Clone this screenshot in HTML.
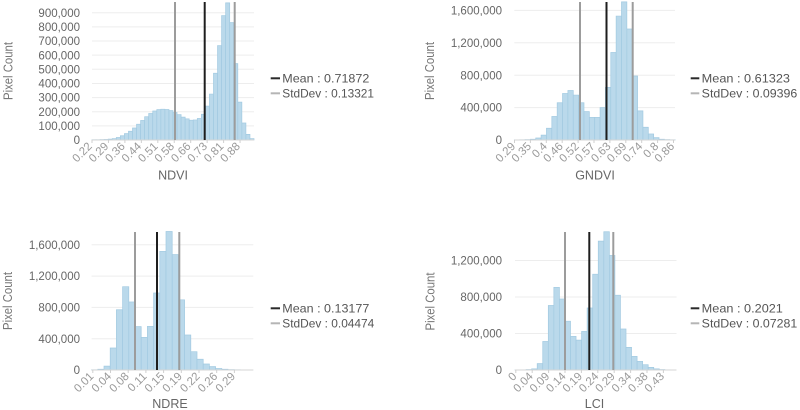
<!DOCTYPE html>
<html><head><meta charset="utf-8">
<style>
html,body{margin:0;padding:0;background:#fff;}
svg{display:block;}
text{font-family:"Liberation Sans",sans-serif;}
.yl{font-size:11.5px;fill:#666;text-anchor:end;}
.xl{font-size:11.5px;fill:#9a9a9a;text-anchor:end;}
.tt{font-size:12.5px;fill:#666;text-anchor:middle;}
.pc{font-size:12.5px;fill:#777;text-anchor:middle;}
.lg{font-size:12px;fill:#555;}
.grid line{stroke:#ededed;stroke-width:1;}
.bars rect{fill:#bad9eb;stroke:#a2cae1;stroke-width:0.7;vector-effect:non-scaling-stroke;}
.ax{stroke:#d6d6d6;stroke-width:1;}
.tk{stroke:#cfcfcf;stroke-width:1;}
.mean{stroke:#1e1e1e;stroke-width:2;}
.sd{stroke:#9c9c9c;stroke-width:2;}
</style></head><body>
<svg width="800" height="410" viewBox="0 0 800 410" xmlns="http://www.w3.org/2000/svg">

<!-- ================= NDVI ================= -->
<g class="grid">
<line x1="92" x2="254" y1="125.86" y2="125.86"/>
<line x1="92" x2="254" y1="111.72" y2="111.72"/>
<line x1="92" x2="254" y1="97.58" y2="97.58"/>
<line x1="92" x2="254" y1="83.44" y2="83.44"/>
<line x1="92" x2="254" y1="69.30" y2="69.30"/>
<line x1="92" x2="254" y1="55.16" y2="55.16"/>
<line x1="92" x2="254" y1="41.02" y2="41.02"/>
<line x1="92" x2="254" y1="26.88" y2="26.88"/>
<line x1="92" x2="254" y1="12.74" y2="12.74"/>
</g>
<text class="yl" x="80" y="144.1">0</text>
<text class="yl" x="80" y="130">100,000</text>
<text class="yl" x="80" y="115.8">200,000</text>
<text class="yl" x="80" y="101.7">300,000</text>
<text class="yl" x="80" y="87.5">400,000</text>
<text class="yl" x="80" y="73.4">500,000</text>
<text class="yl" x="80" y="59.3">600,000</text>
<text class="yl" x="80" y="45.1">700,000</text>
<text class="yl" x="80" y="31">800,000</text>
<text class="yl" x="80" y="16.8">900,000</text>
<g class="bars" transform="translate(92,140) scale(4.05,-0.1414)">
<rect x="0" y="0" width="1" height="2"/>
<rect x="1" y="0" width="1" height="2"/>
<rect x="2" y="0" width="1" height="3"/>
<rect x="3" y="0" width="1" height="4"/>
<rect x="4" y="0" width="1" height="6"/>
<rect x="5" y="0" width="1" height="10"/>
<rect x="6" y="0" width="1" height="18"/>
<rect x="7" y="0" width="1" height="30"/>
<rect x="8" y="0" width="1" height="45"/>
<rect x="9" y="0" width="1" height="62"/>
<rect x="10" y="0" width="1" height="85"/>
<rect x="11" y="0" width="1" height="112"/>
<rect x="12" y="0" width="1" height="138"/>
<rect x="13" y="0" width="1" height="165"/>
<rect x="14" y="0" width="1" height="188"/>
<rect x="15" y="0" width="1" height="205"/>
<rect x="16" y="0" width="1" height="215"/>
<rect x="17" y="0" width="1" height="218"/>
<rect x="18" y="0" width="1" height="216"/>
<rect x="19" y="0" width="1" height="208"/>
<rect x="20" y="0" width="1" height="195"/>
<rect x="21" y="0" width="1" height="180"/>
<rect x="22" y="0" width="1" height="162"/>
<rect x="23" y="0" width="1" height="150"/>
<rect x="24" y="0" width="1" height="140"/>
<rect x="25" y="0" width="1" height="142"/>
<rect x="26" y="0" width="1" height="152"/>
<rect x="27" y="0" width="1" height="182"/>
<rect x="28" y="0" width="1" height="240"/>
<rect x="29" y="0" width="1" height="325"/>
<rect x="30" y="0" width="1" height="472"/>
<rect x="31" y="0" width="1" height="668"/>
<rect x="32" y="0" width="1" height="880"/>
<rect x="33" y="0" width="1" height="970"/>
<rect x="34" y="0" width="1" height="830"/>
<rect x="35" y="0" width="1" height="540"/>
<rect x="36" y="0" width="1" height="268"/>
<rect x="37" y="0" width="1" height="120"/>
<rect x="38" y="0" width="1" height="40"/>
<rect x="39" y="0" width="1" height="10"/>
</g>
<line class="ax" x1="92" x2="254" y1="140" y2="140"/>
<g class="tk">
<line x1="92" x2="92" y1="140" y2="143"/>
<line x1="108.45" x2="108.45" y1="140" y2="143"/>
<line x1="124.9" x2="124.9" y1="140" y2="143"/>
<line x1="141.35" x2="141.35" y1="140" y2="143"/>
<line x1="157.8" x2="157.8" y1="140" y2="143"/>
<line x1="174.25" x2="174.25" y1="140" y2="143"/>
<line x1="190.7" x2="190.7" y1="140" y2="143"/>
<line x1="207.15" x2="207.15" y1="140" y2="143"/>
<line x1="223.6" x2="223.6" y1="140" y2="143"/>
<line x1="240.05" x2="240.05" y1="140" y2="143"/>
</g>
<line class="sd" x1="175" x2="175" y1="2" y2="140"/>
<line class="sd" x1="234.7" x2="234.7" y1="2" y2="140"/>
<line class="mean" x1="204.7" x2="204.7" y1="2" y2="140"/>
<text class="xl" transform="translate(92.7,147) rotate(-45)">0.22</text>
<text class="xl" transform="translate(109.15,147) rotate(-45)">0.29</text>
<text class="xl" transform="translate(125.6,147) rotate(-45)">0.36</text>
<text class="xl" transform="translate(142.05,147) rotate(-45)">0.44</text>
<text class="xl" transform="translate(158.5,147) rotate(-45)">0.51</text>
<text class="xl" transform="translate(174.95,147) rotate(-45)">0.58</text>
<text class="xl" transform="translate(191.4,147) rotate(-45)">0.66</text>
<text class="xl" transform="translate(207.85,147) rotate(-45)">0.73</text>
<text class="xl" transform="translate(224.3,147) rotate(-45)">0.81</text>
<text class="xl" transform="translate(240.75,147) rotate(-45)">0.88</text>
<text class="pc" transform="translate(12.5,71) rotate(-90)" textLength="58" lengthAdjust="spacingAndGlyphs">Pixel Count</text>
<text class="tt" x="173" y="179.3">NDVI</text>
<line x1="270.7" x2="280" y1="78.3" y2="78.3" stroke="#2a2a2a" stroke-width="2"/>
<text class="lg" x="282.3" y="82.6" textLength="87" lengthAdjust="spacingAndGlyphs">Mean : 0.71872</text>
<line x1="270.7" x2="280" y1="93.3" y2="93.3" stroke="#b5b5b5" stroke-width="2"/>
<text class="lg" x="282.3" y="97.6" textLength="91.7" lengthAdjust="spacingAndGlyphs">StdDev : 0.13321</text>

<!-- ================= GNDVI ================= -->
<g class="grid">
<line x1="514.3" x2="675" y1="107.6" y2="107.6"/>
<line x1="514.3" x2="675" y1="75.2" y2="75.2"/>
<line x1="514.3" x2="675" y1="42.8" y2="42.8"/>
<line x1="514.3" x2="675" y1="10.4" y2="10.4"/>
</g>
<text class="yl" x="502" y="144.1">0</text>
<text class="yl" x="502" y="111.7">400,000</text>
<text class="yl" x="502" y="79.3">800,000</text>
<text class="yl" x="502" y="46.9">1,200,000</text>
<text class="yl" x="502" y="14.5">1,600,000</text>
<g class="bars" transform="translate(514.3,140) scale(5.36,-0.081)">
<rect x="0" y="0" width="1" height="2"/>
<rect x="1" y="0" width="1" height="3"/>
<rect x="2" y="0" width="1" height="5"/>
<rect x="3" y="0" width="1" height="9"/>
<rect x="4" y="0" width="1" height="25"/>
<rect x="5" y="0" width="1" height="60"/>
<rect x="6" y="0" width="1" height="145"/>
<rect x="7" y="0" width="1" height="290"/>
<rect x="8" y="0" width="1" height="460"/>
<rect x="9" y="0" width="1" height="575"/>
<rect x="10" y="0" width="1" height="612"/>
<rect x="11" y="0" width="1" height="555"/>
<rect x="12" y="0" width="1" height="460"/>
<rect x="13" y="0" width="1" height="350"/>
<rect x="14" y="0" width="1" height="280"/>
<rect x="15" y="0" width="1" height="280"/>
<rect x="16" y="0" width="1" height="400"/>
<rect x="17" y="0" width="1" height="650"/>
<rect x="18" y="0" width="1" height="1080"/>
<rect x="19" y="0" width="1" height="1530"/>
<rect x="20" y="0" width="1" height="1705"/>
<rect x="21" y="0" width="1" height="1370"/>
<rect x="22" y="0" width="1" height="790"/>
<rect x="23" y="0" width="1" height="360"/>
<rect x="24" y="0" width="1" height="157"/>
<rect x="25" y="0" width="1" height="75"/>
<rect x="26" y="0" width="1" height="30"/>
<rect x="27" y="0" width="1" height="10"/>
<rect x="28" y="0" width="1" height="5"/>
<rect x="29" y="0" width="1" height="3"/>
</g>
<line class="ax" x1="514.3" x2="675" y1="140" y2="140"/>
<g class="tk">
<line x1="514.5" x2="514.5" y1="140" y2="143"/>
<line x1="530.4" x2="530.4" y1="140" y2="143"/>
<line x1="546.3" x2="546.3" y1="140" y2="143"/>
<line x1="562.2" x2="562.2" y1="140" y2="143"/>
<line x1="578.1" x2="578.1" y1="140" y2="143"/>
<line x1="594" x2="594" y1="140" y2="143"/>
<line x1="609.9" x2="609.9" y1="140" y2="143"/>
<line x1="625.8" x2="625.8" y1="140" y2="143"/>
<line x1="641.7" x2="641.7" y1="140" y2="143"/>
<line x1="657.6" x2="657.6" y1="140" y2="143"/>
<line x1="673.5" x2="673.5" y1="140" y2="143"/>
</g>
<line class="sd" x1="580" x2="580" y1="2" y2="140"/>
<line class="sd" x1="632.7" x2="632.7" y1="2" y2="140"/>
<line class="mean" x1="606.5" x2="606.5" y1="2" y2="140"/>
<text class="xl" transform="translate(516,147) rotate(-45)">0.29</text>
<text class="xl" transform="translate(531.9,147) rotate(-45)">0.35</text>
<text class="xl" transform="translate(547.8,147) rotate(-45)">0.4</text>
<text class="xl" transform="translate(563.7,147) rotate(-45)">0.46</text>
<text class="xl" transform="translate(579.6,147) rotate(-45)">0.52</text>
<text class="xl" transform="translate(595.5,147) rotate(-45)">0.57</text>
<text class="xl" transform="translate(611.4,147) rotate(-45)">0.63</text>
<text class="xl" transform="translate(627.3,147) rotate(-45)">0.69</text>
<text class="xl" transform="translate(643.2,147) rotate(-45)">0.74</text>
<text class="xl" transform="translate(659.1,147) rotate(-45)">0.8</text>
<text class="xl" transform="translate(675,147) rotate(-45)">0.86</text>
<text class="pc" transform="translate(434,71) rotate(-90)" textLength="58" lengthAdjust="spacingAndGlyphs">Pixel Count</text>
<text class="tt" x="595" y="179.3">GNDVI</text>
<line x1="690.7" x2="699.3" y1="78.3" y2="78.3" stroke="#2a2a2a" stroke-width="2"/>
<text class="lg" x="701.7" y="82.6" textLength="88.3" lengthAdjust="spacingAndGlyphs">Mean : 0.61323</text>
<line x1="690.7" x2="699.3" y1="93.3" y2="93.3" stroke="#b5b5b5" stroke-width="2"/>
<text class="lg" x="701.7" y="97.6" textLength="95.6" lengthAdjust="spacingAndGlyphs">StdDev : 0.09396</text>

<!-- ================= NDRE ================= -->
<g class="grid">
<line x1="91.6" x2="253.3" y1="338.7" y2="338.7"/>
<line x1="91.6" x2="253.3" y1="307.4" y2="307.4"/>
<line x1="91.6" x2="253.3" y1="276.1" y2="276.1"/>
<line x1="91.6" x2="253.3" y1="244.8" y2="244.8"/>
</g>
<text class="yl" x="80" y="374.1">0</text>
<text class="yl" x="80" y="342.8">400,000</text>
<text class="yl" x="80" y="311.5">800,000</text>
<text class="yl" x="80" y="280.2">1,200,000</text>
<text class="yl" x="80" y="248.9">1,600,000</text>
<g class="bars" transform="translate(91.6,370) scale(6.2,-0.07825)">
<rect x="0" y="0" width="1" height="3"/>
<rect x="1" y="0" width="1" height="10"/>
<rect x="2" y="0" width="1" height="50"/>
<rect x="3" y="0" width="1" height="281"/>
<rect x="4" y="0" width="1" height="770"/>
<rect x="5" y="0" width="1" height="1065"/>
<rect x="6" y="0" width="1" height="870"/>
<rect x="7" y="0" width="1" height="554"/>
<rect x="8" y="0" width="1" height="418"/>
<rect x="9" y="0" width="1" height="558"/>
<rect x="10" y="0" width="1" height="984"/>
<rect x="11" y="0" width="1" height="1517"/>
<rect x="12" y="0" width="1" height="1770"/>
<rect x="13" y="0" width="1" height="1474"/>
<rect x="14" y="0" width="1" height="897"/>
<rect x="15" y="0" width="1" height="447"/>
<rect x="16" y="0" width="1" height="234"/>
<rect x="17" y="0" width="1" height="137"/>
<rect x="18" y="0" width="1" height="77"/>
<rect x="19" y="0" width="1" height="43"/>
<rect x="20" y="0" width="1" height="20"/>
<rect x="21" y="0" width="1" height="10"/>
<rect x="22" y="0" width="1" height="5"/>
<rect x="23" y="0" width="1" height="3"/>
<rect x="24" y="0" width="1" height="2"/>
<rect x="25" y="0" width="1" height="1"/>
</g>
<line class="ax" x1="91.6" x2="253.3" y1="370" y2="370"/>
<g class="tk">
<line x1="92.8" x2="92.8" y1="370" y2="373"/>
<line x1="110.5" x2="110.5" y1="370" y2="373"/>
<line x1="128.2" x2="128.2" y1="370" y2="373"/>
<line x1="145.9" x2="145.9" y1="370" y2="373"/>
<line x1="163.6" x2="163.6" y1="370" y2="373"/>
<line x1="181.3" x2="181.3" y1="370" y2="373"/>
<line x1="199" x2="199" y1="370" y2="373"/>
<line x1="216.7" x2="216.7" y1="370" y2="373"/>
<line x1="234.4" x2="234.4" y1="370" y2="373"/>
</g>
<line class="sd" x1="135" x2="135" y1="232" y2="370"/>
<line class="sd" x1="179.3" x2="179.3" y1="232" y2="370"/>
<line class="mean" x1="157" x2="157" y1="232" y2="370"/>
<text class="xl" transform="translate(94.3,377) rotate(-45)">0.01</text>
<text class="xl" transform="translate(112,377) rotate(-45)">0.04</text>
<text class="xl" transform="translate(129.7,377) rotate(-45)">0.08</text>
<text class="xl" transform="translate(147.4,377) rotate(-45)">0.11</text>
<text class="xl" transform="translate(165.1,377) rotate(-45)">0.15</text>
<text class="xl" transform="translate(182.8,377) rotate(-45)">0.19</text>
<text class="xl" transform="translate(200.5,377) rotate(-45)">0.22</text>
<text class="xl" transform="translate(218.2,377) rotate(-45)">0.26</text>
<text class="xl" transform="translate(235.9,377) rotate(-45)">0.29</text>
<text class="pc" transform="translate(12,301) rotate(-90)" textLength="58" lengthAdjust="spacingAndGlyphs">Pixel Count</text>
<text class="tt" x="170" y="408">NDRE</text>
<line x1="270.7" x2="280" y1="308.3" y2="308.3" stroke="#2a2a2a" stroke-width="2"/>
<text class="lg" x="282.3" y="312.6" textLength="87" lengthAdjust="spacingAndGlyphs">Mean : 0.13177</text>
<line x1="270.7" x2="280" y1="323.3" y2="323.3" stroke="#b5b5b5" stroke-width="2"/>
<text class="lg" x="282.3" y="327.6" textLength="92" lengthAdjust="spacingAndGlyphs">StdDev : 0.04474</text>

<!-- ================= LCI ================= -->
<g class="grid">
<line x1="515" x2="676.5" y1="333.5" y2="333.5"/>
<line x1="515" x2="676.5" y1="297" y2="297"/>
<line x1="515" x2="676.5" y1="260.5" y2="260.5"/>
</g>
<text class="yl" x="502" y="374.1">0</text>
<text class="yl" x="502" y="337.6">400,000</text>
<text class="yl" x="502" y="301.1">800,000</text>
<text class="yl" x="502" y="264.6">1,200,000</text>
<g class="bars" transform="translate(515,370) scale(5.55,-0.09125)">
<rect x="0" y="0" width="1" height="1"/>
<rect x="1" y="0" width="1" height="2"/>
<rect x="2" y="0" width="1" height="5"/>
<rect x="3" y="0" width="1" height="12"/>
<rect x="4" y="0" width="1" height="70"/>
<rect x="5" y="0" width="1" height="312"/>
<rect x="6" y="0" width="1" height="707"/>
<rect x="7" y="0" width="1" height="906"/>
<rect x="8" y="0" width="1" height="778"/>
<rect x="9" y="0" width="1" height="535"/>
<rect x="10" y="0" width="1" height="369"/>
<rect x="11" y="0" width="1" height="327"/>
<rect x="12" y="0" width="1" height="422"/>
<rect x="13" y="0" width="1" height="680"/>
<rect x="14" y="0" width="1" height="1050"/>
<rect x="15" y="0" width="1" height="1412"/>
<rect x="16" y="0" width="1" height="1515"/>
<rect x="17" y="0" width="1" height="1255"/>
<rect x="18" y="0" width="1" height="820"/>
<rect x="19" y="0" width="1" height="449"/>
<rect x="20" y="0" width="1" height="248"/>
<rect x="21" y="0" width="1" height="150"/>
<rect x="22" y="0" width="1" height="95"/>
<rect x="23" y="0" width="1" height="58"/>
<rect x="24" y="0" width="1" height="29"/>
<rect x="25" y="0" width="1" height="12"/>
<rect x="26" y="0" width="1" height="5"/>
<rect x="27" y="0" width="1" height="2"/>
<rect x="28" y="0" width="1" height="1"/>
</g>
<line class="ax" x1="515" x2="676.5" y1="370" y2="370"/>
<g class="tk">
<line x1="515.8" x2="515.8" y1="370" y2="373"/>
<line x1="532.2" x2="532.2" y1="370" y2="373"/>
<line x1="548.6" x2="548.6" y1="370" y2="373"/>
<line x1="565" x2="565" y1="370" y2="373"/>
<line x1="581.4" x2="581.4" y1="370" y2="373"/>
<line x1="597.8" x2="597.8" y1="370" y2="373"/>
<line x1="614.2" x2="614.2" y1="370" y2="373"/>
<line x1="630.6" x2="630.6" y1="370" y2="373"/>
<line x1="647" x2="647" y1="370" y2="373"/>
<line x1="663.4" x2="663.4" y1="370" y2="373"/>
</g>
<line class="sd" x1="565" x2="565" y1="232" y2="370"/>
<line class="sd" x1="613.3" x2="613.3" y1="232" y2="370"/>
<line class="mean" x1="589.3" x2="589.3" y1="232" y2="370"/>
<text class="xl" transform="translate(517.3,377) rotate(-45)">0</text>
<text class="xl" transform="translate(533.7,377) rotate(-45)">0.04</text>
<text class="xl" transform="translate(550.1,377) rotate(-45)">0.09</text>
<text class="xl" transform="translate(566.5,377) rotate(-45)">0.14</text>
<text class="xl" transform="translate(582.9,377) rotate(-45)">0.19</text>
<text class="xl" transform="translate(599.3,377) rotate(-45)">0.24</text>
<text class="xl" transform="translate(615.7,377) rotate(-45)">0.29</text>
<text class="xl" transform="translate(632.1,377) rotate(-45)">0.34</text>
<text class="xl" transform="translate(648.5,377) rotate(-45)">0.38</text>
<text class="xl" transform="translate(664.9,377) rotate(-45)">0.43</text>
<text class="pc" transform="translate(434.5,301.5) rotate(-90)" textLength="58" lengthAdjust="spacingAndGlyphs">Pixel Count</text>
<text class="tt" x="594.5" y="408">LCI</text>
<line x1="690.7" x2="699.3" y1="308.3" y2="308.3" stroke="#2a2a2a" stroke-width="2"/>
<text class="lg" x="701.7" y="312.6" textLength="81.2" lengthAdjust="spacingAndGlyphs">Mean : 0.2021</text>
<line x1="690.7" x2="699.3" y1="323.3" y2="323.3" stroke="#b5b5b5" stroke-width="2"/>
<text class="lg" x="701.7" y="327.6" textLength="95.6" lengthAdjust="spacingAndGlyphs">StdDev : 0.07281</text>

</svg>
</body></html>
